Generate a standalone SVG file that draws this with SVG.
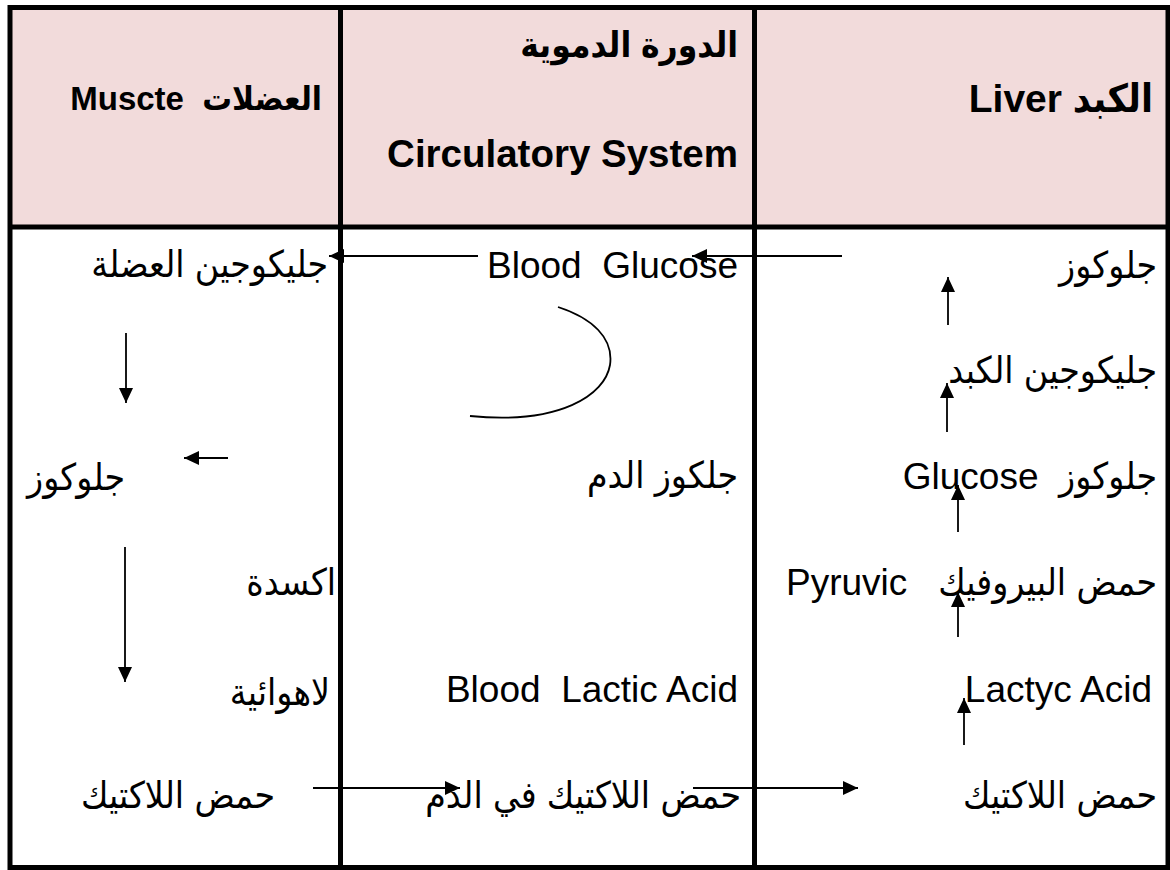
<svg xmlns="http://www.w3.org/2000/svg" width="1170" height="870" viewBox="0 0 1170 870">
<defs>
<style>
.t{font-family:"Liberation Sans","DejaVu Sans Condensed","DejaVu Sans",Arial,sans-serif;font-size:37px;fill:#000}
.b{font-weight:bold}
.rtl{direction:rtl;unicode-bidi:embed}
.grid{stroke:#000;stroke-width:5;fill:none}
.c{stroke:#000;stroke-width:1.8;fill:none}
.a{marker-end:url(#ah)}
</style>
<marker id="ah" markerUnits="userSpaceOnUse" markerWidth="16" markerHeight="14" refX="15" refY="7" orient="auto">
<path d="M0,0 L15,7 L0,14 z" fill="#000"/>
</marker>
</defs>
<rect x="0" y="0" width="1170" height="870" fill="#fff"/>
<g id="table">
<rect x="10" y="7.5" width="1158" height="219.5" fill="#F2DBDB"/>
<rect class="grid" x="10" y="7.5" width="1158" height="860"/>
<line class="grid" x1="10" y1="227" x2="1168" y2="227"/>
<line class="grid" x1="340.5" y1="7.5" x2="340.5" y2="867.5"/>
<line class="grid" x1="754.5" y1="7.5" x2="754.5" y2="867.5"/>
</g>
<g id="headers">
<g id="h-muscle"><text class="t b rtl" x="322" y="110" style="font-size:33px" text-anchor="start" xml:space="preserve">العضلات  Muscte</text></g>
<g id="h-circ">
<text class="t b" x="738" y="57" style="font-size:35px" text-anchor="end">الدورة الدموية</text>
<text class="t b" x="738" y="167" style="font-size:38.5px" text-anchor="end">Circulatory System</text>
</g>
<g id="h-liver"><text class="t b rtl" x="1153" y="112" style="font-size:39px" text-anchor="start">الكبد Liver</text></g>
</g>
<g id="muscle">
<g id="m1"><text class="t" x="328" y="277" text-anchor="end">جليكوجين العضلة</text></g>
<g id="m2"><text class="t" x="125" y="490" text-anchor="end">جلوكوز</text></g>
<g id="m3"><text class="t" x="336" y="595" text-anchor="end">اكسدة</text></g>
<g id="m4"><text class="t" x="330" y="705" text-anchor="end">لاهوائية</text></g>
<g id="m5"><text class="t" x="275" y="808" text-anchor="end">حمض اللاكتيك</text></g>
</g>
<g id="circulatory">
<g id="c1"><text class="t" x="738" y="278" text-anchor="end" xml:space="preserve">Blood  Glucose</text></g>
<g id="c2"><text class="t" x="738" y="488" text-anchor="end">جلكوز الدم</text></g>
<g id="c3"><text class="t" x="738" y="702" text-anchor="end" xml:space="preserve">Blood  Lactic Acid</text></g>
<g id="c4"><text class="t" x="741" y="808" text-anchor="end">حمض اللاكتيك في الدم</text></g>
</g>
<g id="liver">
<g id="l1"><text class="t" x="1157" y="278" text-anchor="end">جلوكوز</text></g>
<g id="l2"><text class="t" x="1157" y="383" text-anchor="end">جليكوجين الكبد</text></g>
<g id="l3"><text class="t rtl" x="1157" y="489" text-anchor="start" xml:space="preserve">جلوكوز  Glucose</text></g>
<g id="l4"><text class="t rtl" x="1157" y="595" text-anchor="start" xml:space="preserve">حمض البيروفيك   Pyruvic</text></g>
<g id="l5"><text class="t" x="1152" y="702" text-anchor="end">Lactyc Acid</text></g>
<g id="l6"><text class="t" x="1157" y="808" text-anchor="end">حمض اللاكتيك</text></g>
</g>
<g id="connectors">
<line class="c a" x1="842" y1="256" x2="692" y2="256"/>
<line class="c a" x1="478" y1="256" x2="329" y2="256"/>
<path class="c" d="M558,307 C592,318 614,338 610,365 C605,395 560,425 470,416"/>
<line class="c a" x1="126" y1="333" x2="126" y2="403"/>
<line class="c a" x1="228" y1="458" x2="184" y2="458"/>
<line class="c a" x1="125" y1="547" x2="125" y2="682"/>
<line class="c a" x1="313" y1="788" x2="460" y2="788"/>
<line class="c a" x1="693" y1="788" x2="858" y2="788"/>
<line class="c a" x1="948" y1="325" x2="948" y2="277"/>
<line class="c a" x1="947" y1="432" x2="947" y2="383"/>
<line class="c a" x1="958" y1="532" x2="958" y2="485"/>
<line class="c a" x1="958" y1="637" x2="958" y2="592"/>
<line class="c a" x1="964" y1="745" x2="964" y2="698"/>
</g>
</svg>
